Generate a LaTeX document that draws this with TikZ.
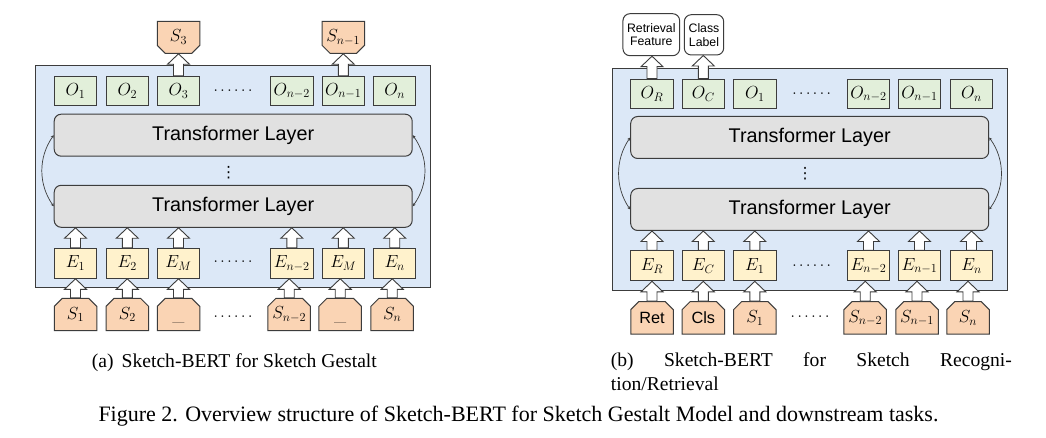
\RequirePackage{fix-cm}
\documentclass[tikz,border=0pt]{standalone}
\usepackage{fontspec}
\newfontfamily\arialf{Liberation Sans}
\newfontfamily\timesf{Liberation Serif}
\newfontfamily\dejavu{DejaVu Sans}
\usetikzlibrary{shapes.misc,arrows.meta,calc}
\definecolor{bluebg}{RGB}{220,232,247}
\definecolor{ogreen}{RGB}{226,239,218}
\definecolor{eyel}{RGB}{255,242,204}
\definecolor{sor}{RGB}{250,212,180}
\definecolor{tgray}{RGB}{225,225,225}
\definecolor{bordc}{RGB}{60,60,60}
\tikzset{
 bx/.style={draw=bordc, line width=1pt, inner sep=0pt, font=\fontsize{17.5}{20}\selectfont},
 obox/.style={bx, fill=ogreen, minimum width=42.5pt, minimum height=29.5pt},
 ebox/.style={bx, fill=eyel, minimum width=42.5pt, minimum height=30pt},
 sin/.style={bx, fill=sor, chamfered rectangle, chamfered rectangle corners={north west,north east}, chamfered rectangle xsep=4pt, chamfered rectangle ysep=4pt, minimum width=42.5pt, minimum height=32.4pt},
 sout/.style={bx, fill=sor, chamfered rectangle, chamfered rectangle corners={south west,south east}, chamfered rectangle xsep=4pt, chamfered rectangle ysep=4pt, minimum width=42.5pt, minimum height=32pt},
 tlayer/.style={draw=bordc, line width=1pt, fill=tgray, rounded corners=7pt, minimum width=358pt, minimum height=42pt, inner sep=0pt, font=\arialf\fontsize{19.8}{22}\selectfont},
 panel/.style={draw=bordc, line width=1pt, fill=bluebg, inner sep=0pt},
 outb/.style={draw=bordc, line width=1pt, fill=white, rounded corners=7pt, inner sep=0pt, align=center, font=\arialf\fontsize{12.3}{13.7}\selectfont},
 barrow/.style={draw=bordc, line width=0.9pt, fill=white, line join=miter},
 loopc/.style={draw=bordc, line width=0.7pt, {Stealth[length=3pt,width=3pt]}-{Stealth[length=3pt,width=3pt]}},
 dotsn/.style={font=\fontsize{15.5}{18}\selectfont, inner sep=0pt, anchor=base},
 vdotsn/.style={font=\dejavu\fontsize{15.5}{18}\selectfont, inner sep=0pt},
 capn/.style={font=\timesf\fontsize{19.6}{23}\selectfont, anchor=base west, inner sep=0pt},
 sansl/.style={font=\arialf\fontsize{16.3}{18}\selectfont},
}
\newcommand{\blockarr}[2]{%
 \path[barrow] let \p1=(#1.north), \p2=(#2.south) in
 (\x1-5pt,\y1) -- (\x1-5pt,\y2-10.5pt) -- (\x1-11pt,\y2-10.5pt) -- (\x1,\y2) -- (\x1+11pt,\y2-10.5pt) -- (\x1+5pt,\y2-10.5pt) -- (\x1+5pt,\y1) -- cycle;}
\newcommand{\mask}{$\vphantom{S_1}$\raisebox{-1.5pt}{\textunderscore}}
\begin{document}
\begin{tikzpicture}[x=1pt,y=-1pt]
\useasboundingbox (0,0) rectangle (1046,438);
\fill[white] (0,0) rectangle (1046,438);
% ---------- panel (a) ----------
\node[panel, minimum width=394.6pt, minimum height=221.6pt] (pa) at (233,176.5) {};
\node[tlayer] (ta1) at (233.2,135.2) {Transformer Layer};
\node[tlayer] (ta2) at (233.2,206.3) {Transformer Layer};
\node[vdotsn] (vda) at (228.5,172.3) {⋮};
\node[obox] (oa1) at (75.5,91) {$O_1$};
\node[obox] (oa2) at (127.3,91) {$O_2$};
\node[obox] (oa3) at (178.5,91) {$O_3$};
\node[dotsn] (doa) at (233,94.6) {$\cdots\cdots$};
\node[obox] (oa4) at (291.8,91) {$O_{n-2}$};
\node[obox] (oa5) at (343.3,91) {$O_{n-1}$};
\node[obox] (oa6) at (394.7,91) {$O_n$};
\node[sout] (sa3) at (178.5,37.3) {$S_3$};
\node[sout] (sa5) at (343.3,37.3) {$S_{n-1}$};
\node[ebox] (ea1) at (75.5,263.3) {$E_1$};
\node[ebox] (ea2) at (127.3,263.3) {$E_2$};
\node[ebox] (ea3) at (178.5,263.3) {$E_M$};
\node[dotsn] (dea) at (233,265.6) {$\cdots\cdots$};
\node[ebox] (ea4) at (291.8,263.3) {$E_{n-2}$};
\node[ebox] (ea5) at (343.3,263.3) {$E_M$};
\node[ebox] (ea6) at (394.7,263.3) {$E_n$};
\node[sin] (ia1) at (75.5,314.5) {$S_1$};
\node[sin] (ia2) at (127.3,314.5) {$S_2$};
\node[sin] (ia3) at (178.5,314.5) {\mask};
\node[dotsn] (dia) at (233,320.6) {$\cdots\cdots$};
\node[sin] (ia4) at (289.2,314.5) {$S_{n-2}$};
\node[sin] (ia5) at (340.2,314.5) {\mask};
\node[sin] (ia6) at (392.2,314.5) {$S_n$};
\foreach \i in {1,...,6} {\blockarr{ea\i}{ta2} \blockarr{ia\i}{ea\i}}
\blockarr{oa3}{sa3}
\blockarr{oa5}{sa5}
\draw[loopc] (ta1.west) .. controls +(-15.5,22) and +(-15.5,-22) .. (ta2.west);
\draw[loopc] (ta1.east) .. controls +(16,22) and +(16,-22) .. (ta2.east);
% ---------- panel (b) ----------
\node[panel, minimum width=395pt, minimum height=221.3pt] (pb) at (809.8,179.35) {};
\node[tlayer] (tb1) at (809.7,137.5) {Transformer Layer};
\node[tlayer] (tb2) at (809.7,209.5) {Transformer Layer};
\node[vdotsn] (vdb) at (805,174) {⋮};
\node[obox] (ob1) at (652,93.85) {$O_R$};
\node[obox] (ob2) at (703.3,93.85) {$O_C$};
\node[obox] (ob3) at (754.8,93.85) {$O_1$};
\node[dotsn] (dob) at (811.7,97.9) {$\cdots\cdots$};
\node[obox] (ob4) at (868.5,93.85) {$O_{n-2}$};
\node[obox] (ob5) at (919.5,93.85) {$O_{n-1}$};
\node[obox] (ob6) at (971.5,93.85) {$O_n$};
\node[outb, minimum width=56.7pt, minimum height=42pt] (rf) at (651.3,34.7) {Retrieval\\Feature};
\node[outb, minimum width=39.4pt, minimum height=40.3pt] (cl) at (704,34.85) {Class\\Label};
\node[ebox] (eb1) at (652,265.85) {$E_R$};
\node[ebox] (eb2) at (703.3,265.85) {$E_C$};
\node[ebox] (eb3) at (754.8,265.85) {$E_1$};
\node[dotsn] (deb) at (811.7,269.9) {$\cdots\cdots$};
\node[ebox] (eb4) at (868.5,265.85) {$E_{n-2}$};
\node[ebox] (eb5) at (919.5,265.85) {$E_{n-1}$};
\node[ebox] (eb6) at (971.5,265.85) {$E_n$};
\node[sin, sansl] (ib1) at (652,317.85) {Ret};
\node[sin, sansl] (ib2) at (703.3,317.85) {Cls};
\node[sin] (ib3) at (754.8,317.85) {$S_1$};
\node[dotsn] (dib) at (810,320.6) {$\cdots\cdots$};
\node[sin] (ib4) at (865.2,317.85) {$S_{n-2}$};
\node[sin] (ib5) at (917,317.85) {$S_{n-1}$};
\node[sin] (ib6) at (968,317.85) {$S_n$};
\foreach \i in {1,...,6} {\blockarr{eb\i}{tb2} \blockarr{ib\i}{eb\i}}
\blockarr{ob1}{rf}
\blockarr{ob2}{cl}
\draw[loopc] (tb1.west) .. controls +(-15.2,22) and +(-15.2,-22) .. (tb2.west);
\draw[loopc] (tb1.east) .. controls +(16,22) and +(16,-22) .. (tb2.east);
% ---------- captions ----------
\node[capn] (capa) at (91.7,367) {(a)\hspace{8pt}Sketch-BERT for Sketch Gestalt};
\node[capn] (capb1) at (610.7,366.7) {\hbox to 401pt{(b)\hfill Sketch-BERT\hfill for\hfill Sketch\hfill Recogni-}};
\node[capn] (capb2) at (610.7,390) {tion/Retrieval};
\node[capn, font=\timesf\fontsize{22}{26}\selectfont] (capf) at (98.3,421.7) {Figure 2. Overview structure of Sketch-BERT for Sketch Gestalt Model and downstream tasks.};
\end{tikzpicture}
\end{document}
